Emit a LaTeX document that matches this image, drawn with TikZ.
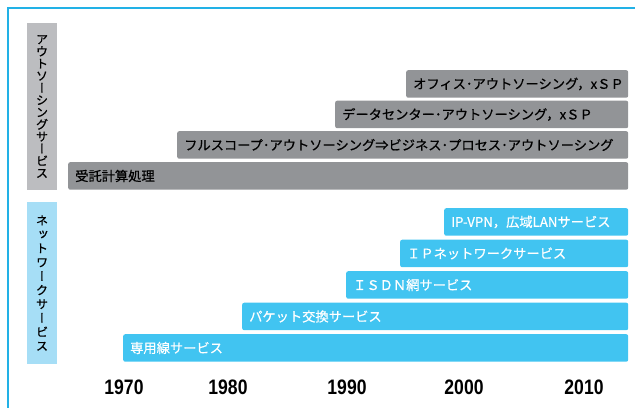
\documentclass[tikz,border=0pt]{standalone}
\usepackage{fontspec}
\usepackage{graphicx}
\setmainfont{Noto Sans CJK JP}[FakeBold=0.6]
\newfontfamily\vjp{Noto Sans CJK JP}[RawFeature=+vert, FakeBold=0.8]
\newfontfamily\yearfont{Liberation Sans}
\definecolor{frameCyan}{HTML}{22B1E6}
\definecolor{barGray}{HTML}{929497}
\definecolor{sideGray}{HTML}{BCBDC0}
\definecolor{barBlue}{HTML}{41C4F1}
\definecolor{sideBlue}{HTML}{A6DEF6}
\newcommand\yearlbl[1]{\scalebox{0.84}[1]{#1}}
\tikzset{
  frameline/.style={draw=frameCyan, line width=1.5bp},
  sidebox/.style={minimum width=30bp, inner sep=0pt, align=center,
    font=\vjp\fontsize{12.3}{12.2}\selectfont},
  bar/.style={rounded corners=2bp, minimum height=27.5bp, inner xsep=7bp,
    inner ysep=0pt, anchor=north west, align=left,
    font=\fontsize{13.3}{14}\selectfont},
  gbar/.style={bar, fill=barGray, text=black},
  bbar/.style={bar, fill=barBlue, text=white},
  year/.style={font=\yearfont\bfseries\fontsize{21}{21}\selectfont, inner sep=0pt}
}
\begin{document}
\begin{tikzpicture}[x=1bp,y=-1bp]
\useasboundingbox (0,0) rectangle (635,407);
\draw[frameline] (8,408) -- (8,8) -- (636,8);
% side labels
\node[sidebox, fill=sideGray, minimum height=167bp] (sideOut) at (42,106.5)
  {ア\\ウ\\ト\\ソ\\ー\\シ\\ン\\グ\\サ\\ー\\ビ\\ス};
\node[sidebox, fill=sideBlue, minimum height=162bp,
  font=\vjp\fontsize{12.3}{14}\selectfont] (sideNet) at (42,283)
  {ネ\\ッ\\ト\\ワ\\ー\\ク\\サ\\ー\\ビ\\ス};
% outsourcing bars
\node[gbar, text width=208bp] (g4) at (406,70) {\mbox{オフィス･アウトソーシング，xＳＰ}};
\node[gbar, text width=279bp] (g3) at (335,100.5) {\mbox{データセンター･アウトソーシング，xＳＰ}};
\node[gbar, text width=437bp] (g2) at (177,131) {\mbox{フルスコープ･アウトソーシング⇒ビジネス･プロセス･アウトソーシング}};
\node[gbar, text width=546bp] (g1) at (68,162) {\mbox{受託計算処理}};
% network bars
\node[bbar, text width=170bp] (b5) at (444,208) {\mbox{IP-VPN，広域LANサービス}};
\node[bbar, text width=214bp] (b4) at (400,239.5) {\mbox{ＩＰネットワークサービス}};
\node[bbar, text width=268bp] (b3) at (346,271) {\mbox{ＩＳＤＮ網サービス}};
\node[bbar, text width=372bp] (b2) at (242,302.5) {\mbox{パケット交換サービス}};
\node[bbar, text width=491bp] (b1) at (123,334) {\mbox{専用線サービス}};
% years
\node[year] (y1970) at (124,387.5) {\yearlbl{1970}};
\node[year] (y1980) at (228,387.5) {\yearlbl{1980}};
\node[year] (y1990) at (347,387.5) {\yearlbl{1990}};
\node[year] (y2000) at (464,387.5) {\yearlbl{2000}};
\node[year] (y2010) at (584,387.5) {\yearlbl{2010}};
\end{tikzpicture}
\end{document}
